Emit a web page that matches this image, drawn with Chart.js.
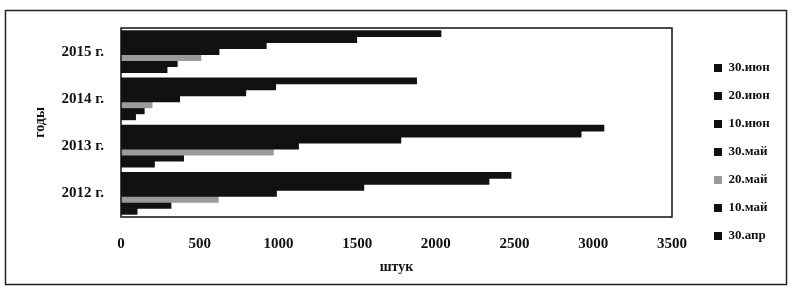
<!doctype html>
<html>
<head>
<meta charset="utf-8">
<title>годы / штук</title>
<script src="https://cdn.jsdelivr.net/npm/chart.js@4/dist/chart.umd.min.js"></script>
<style>
	html, body { margin: 0; padding: 0; background: #fff; }
</style>
</head>
<body>
<canvas id="chart-area" width="792" height="291"></canvas>
<script>
	// categories (bottom to top) and series
	var years = ['2012 г.', '2013 г.', '2014 г.', '2015 г.'];
	var dates = ['30.июн', '20.июн', '10.июн', '30.май', '20.май', '10.май', '30.апр'];

	var jun30 = [2480, 3070, 1880, 2035];
	var jun20 = [2340, 2925, 985, 1500];
	var jun10 = [1545, 1780, 795, 925];
	var may30 = [990, 1130, 375, 625];
	var may20 = [620, 970, 200, 510];
	var may10 = [320, 400, 150, 360];
	var apr30 = [105, 215, 95, 295];

	var xMin = 0, xMax = 3500, xStep = 500;

	var seriesValues = [jun30, jun20, jun10, may30, may20, may10, apr30];
	var seriesColors = ['#111', '#111', '#111', '#111', '#9a9a9a', '#111', '#111'];

	var serif = 'Liberation Serif, Times New Roman, serif';

	var datasets = dates.map(function(d, i) {
		return {
			label: d,
			data: seriesValues[i],
			backgroundColor: seriesColors[i],
			borderWidth: 0,
			barPercentage: 1.1,
			categoryPercentage: 0.89
		};
	});

	var framePlugin = {
		id: 'frame',
		afterLayout: function(chart) {
			// push legend away from the plot, like the original
			var lg = chart.legend;
			var dx = chart.chartArea.right + 27 - lg.left;
			lg.left += dx;
			lg.right += dx;
		},
		beforeDraw: function(chart) {
			var ctx = chart.ctx;
			ctx.save();
			ctx.fillStyle = '#fff';
			ctx.fillRect(0, 0, chart.width, chart.height);
			ctx.strokeStyle = '#222';
			ctx.lineWidth = 1.5;
			ctx.strokeRect(5.5, 10.5, 781, 274);
			ctx.restore();
		},
		afterDatasetsDraw: function(chart) {
			var a = chart.chartArea, ctx = chart.ctx;
			ctx.save();
			ctx.strokeStyle = '#111';
			ctx.lineWidth = 1.5;
			ctx.strokeRect(a.left, a.top, a.right - a.left, a.bottom - a.top);
			ctx.restore();
		}
	};

	var config = {
		type: 'bar',
		data: {
			labels: years,
			datasets: datasets
		},
		options: {
			indexAxis: 'y',
			responsive: false,
			animation: false,
			layout: {
				padding: { left: 0, right: 45, top: 28, bottom: 15 }
			},
			plugins: {
				legend: {
					position: 'right',
					maxWidth: 75,
					labels: {
						boxWidth: 8,
						boxHeight: 8,
						padding: 15,
						color: '#111',
						font: { family: serif, size: 13, weight: 'bold' }
					}
				},
				tooltip: { enabled: false }
			},
			scales: {
				x: {
					min: xMin,
					max: xMax,
					grid: { display: false },
					border: { display: false },
					ticks: {
						stepSize: xStep,
						padding: 10,
						color: '#111',
						font: { family: serif, size: 15, weight: 'bold' },
						callback: function(v) { return String(v); }
					},
					title: {
						display: true,
						text: 'штук',
						color: '#111',
						padding: 0,
						font: { family: serif, size: 14, weight: 'bold' }
					},
					afterFit: function(s) { s.height = 59; }
				},
				y: {
					reverse: true,
					grid: { display: false },
					border: { display: false },
					ticks: {
						padding: 9,
						color: '#111',
						font: { family: serif, size: 15, weight: 'bold' }
					},
					title: {
						display: true,
						text: 'годы',
						color: '#111',
						padding: { top: 32, bottom: 0 },
						font: { family: serif, size: 14, weight: 'bold' }
					},
					afterFit: function(s) { s.width = 121; }
				}
			}
		},
		plugins: [framePlugin]
	};

	window.onload = function() {
		var ctx = document.getElementById('chart-area').getContext('2d');
		window.myBar = new Chart(ctx, config);
	};
</script>
</body>
</html>
